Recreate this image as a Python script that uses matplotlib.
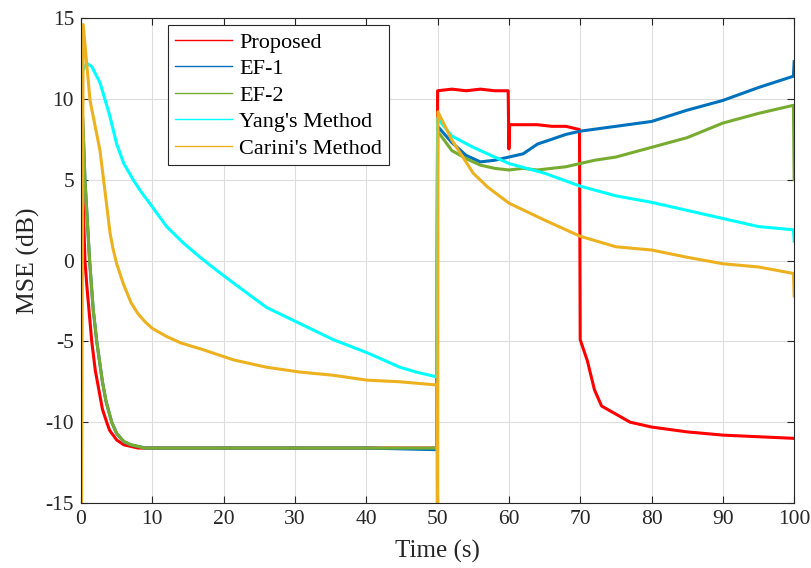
import matplotlib
matplotlib.use("Agg")
import matplotlib.pyplot as plt
from matplotlib.lines import Line2D

plt.rcParams['font.family'] = ['Liberation Serif', 'DejaVu Serif']
plt.rcParams['axes.unicode_minus'] = False

# ---- data (time in s, MSE in dB) ----
prop_t = [0, 0.2, 0.55, 0.8, 1.5, 2, 2.5, 3, 3.6, 4, 5, 6, 7, 8, 10, 20, 30, 40, 49.9,
          50, 52, 54, 56, 58, 59.9, 60, 60.1, 62, 64, 66, 68, 69.9,
          70, 71, 72, 73, 75, 77, 80, 85, 90, 95, 100]
prop_v = [9, 5, 0, -1.5, -5, -6.8, -8, -9.2, -10, -10.5, -11.1, -11.4, -11.5, -11.6, -11.6, -11.6, -11.6, -11.6, -11.6,
          10.5, 10.6, 10.5, 10.6, 10.5, 10.5, 6.9, 8.4, 8.4, 8.4, 8.3, 8.3, 8.1,
          -4.9, -6.2, -8.0, -9.0, -9.5, -10.0, -10.3, -10.6, -10.8, -10.9, -11.0]

ef1_t = [0, 0.3, 0.55, 1.2, 1.7, 2.2, 3, 3.5, 4.3, 5, 6, 7, 8, 9, 20, 30, 40, 49.9,
         50, 52, 54, 56, 58, 60, 62, 64, 66, 68, 70, 75, 80, 85, 90, 95, 99.9, 100]
ef1_v = [11, 8, 5, 0, -3, -5, -7.5, -8.7, -10, -10.7, -11.2, -11.4, -11.5, -11.6, -11.6, -11.6, -11.6, -11.7,
         8.3, 7.3, 6.5, 6.1, 6.2, 6.4, 6.6, 7.2, 7.5, 7.8, 8.0, 8.3, 8.6, 9.3, 9.9, 10.7, 11.4, 12.3]

ef2_t = [0, 0.3, 0.55, 1.2, 1.7, 2.2, 3, 3.5, 4.3, 5, 6, 7, 8, 9, 20, 30, 40, 49.9,
         50, 52, 54, 56, 58, 60, 62, 64, 68, 70, 72, 75, 80, 85, 90, 95, 99.9, 100]
ef2_v = [11, 8, 5, 0, -3, -5, -7.5, -8.7, -10, -10.7, -11.2, -11.4, -11.5, -11.6, -11.6, -11.6, -11.6, -11.6,
         8.0, 6.8, 6.3, 5.9, 5.7, 5.6, 5.7, 5.6, 5.8, 6.0, 6.2, 6.4, 7.0, 7.6, 8.5, 9.1, 9.6, 5.0]

yang_t = [0, 0.3, 0.8, 1.5, 2.66, 4, 5, 6, 7.3, 8.5, 9.7, 12, 14.3, 16.7, 19, 21.4, 26, 30.7, 35.4, 40.1, 44.7, 47, 49.9,
          50, 52, 55, 60, 65, 70, 75, 80, 85, 90, 95, 99.9, 100]
yang_v = [11.3, 11.8, 12.2, 12.0, 11.0, 9.0, 7.2, 6.0, 5.0, 4.2, 3.5, 2.1, 1.1, 0.2, -0.6, -1.4, -2.9, -3.9, -4.9, -5.7, -6.6, -6.9, -7.2,
          8.8, 7.7, 7.0, 6.0, 5.4, 4.6, 4.0, 3.6, 3.1, 2.6, 2.1, 1.9, 1.2]

carini_t = [0, 0.3, 1.26, 2.66, 4.07, 4.5, 5, 5.9, 7, 8, 9, 10, 12, 14, 17, 21.4, 26, 30.7, 35.4, 40.1, 44.7, 49.9,
            50, 50.05, 52, 55, 57, 60, 65, 70, 75, 80, 85, 90, 95, 99.9, 100]
carini_v = [-25, 14.6, 9.9, 6.8, 1.7, 0.7, -0.2, -1.4, -2.6, -3.3, -3.8, -4.2, -4.7, -5.1, -5.5, -6.15, -6.6, -6.9, -7.1, -7.4, -7.5, -7.7,
            -25, 9.2, 7.45, 5.4, 4.55, 3.55, 2.5, 1.5, 0.85, 0.65, 0.2, -0.2, -0.4, -0.8, -2.2]

series = [
    ("Proposed", prop_t, prop_v, (1.0, 0.0, 0.0)),
    ("EF-1", ef1_t, ef1_v, (0.0, 0.447, 0.741)),
    ("EF-2", ef2_t, ef2_v, (0.466, 0.674, 0.188)),
    ("Yang's Method", yang_t, yang_v, (0.0, 1.0, 1.0)),
    ("Carini's Method", carini_t, carini_v, (0.929, 0.694, 0.125)),
]

dark = (0.15, 0.15, 0.15)
fig = plt.figure(figsize=(8.12, 5.68), dpi=100)
ax = fig.add_axes([0.0998, 0.1144, 0.8782, 0.8539])

handles = []
for name, t, v, c in series:
    ax.plot(t, v, color=c, lw=2.2, solid_joinstyle='round')
    handles.append(Line2D([], [], color=c, lw=1.0, label=name))

ax.set_xlim(0, 100)
ax.set_ylim(-15, 15)
ax.set_xticks(range(0, 101, 10))
ax.set_yticks(range(-15, 16, 5))
ax.grid(True, color=(0.87, 0.87, 0.87), lw=0.8)
ax.set_axisbelow(True)
ax.tick_params(direction='in', top=True, right=True, labelsize=15.5, colors=dark,
               length=5, width=0.8, pad=5)
for s in ax.spines.values():
    s.set_color(dark)
    s.set_linewidth(0.8)
ax.set_xlabel("Time (s)", fontsize=18, color=dark, labelpad=8)
ax.set_ylabel("MSE (dB)", fontsize=18.5, color=dark, labelpad=4)

leg = ax.legend(handles=handles, loc='upper left', bbox_to_anchor=(0.122, 0.985), fontsize=16,
                frameon=True, fancybox=False, handlelength=2.6, handletextpad=0.3,
                labelspacing=0.27, borderpad=0.3, borderaxespad=0)
leg.get_frame().set_edgecolor(dark)
leg.get_frame().set_linewidth(0.8)
leg.get_frame().set_alpha(1)

fig.savefig("out.png", dpi=100)
